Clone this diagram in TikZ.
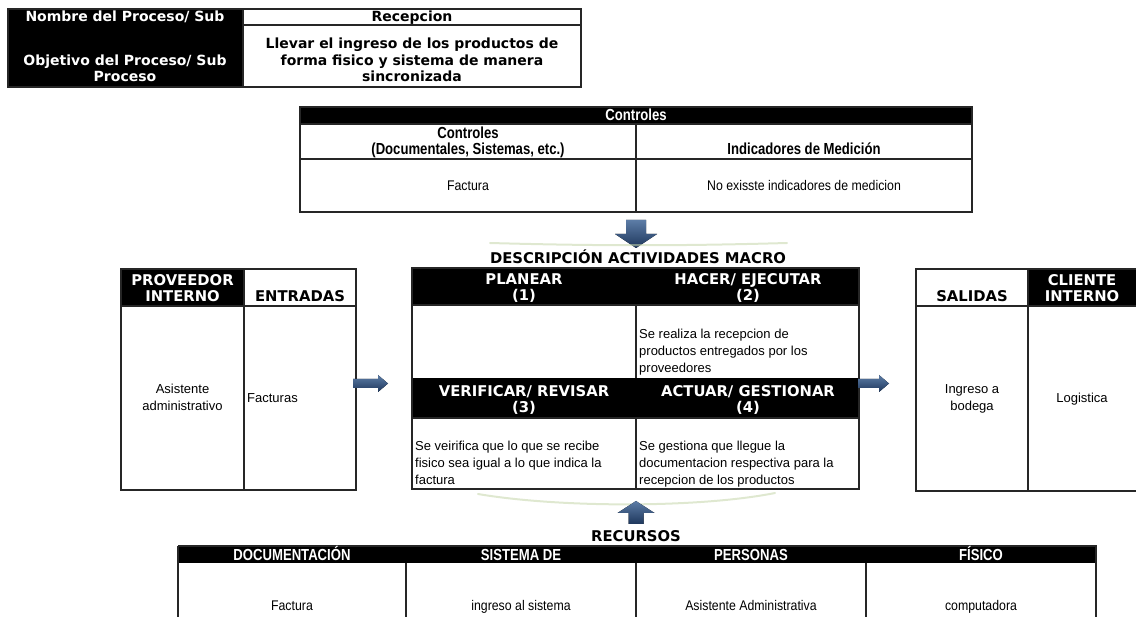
\documentclass[tikz,border=0pt]{standalone}
\usepackage{fontspec}
\setmainfont{Liberation Sans}
\newfontfamily\hdrfont{DejaVu Sans}
\newfontfamily\narrowfont[FakeStretch=0.88]{Liberation Sans}
\newfontfamily\narrowbold[FakeStretch=0.82]{Liberation Sans Bold}
\definecolor{arrowtop}{RGB}{92,124,166}
\definecolor{arrowbot}{RGB}{30,55,92}
\definecolor{glowgreen}{RGB}{196,214,170}
\begin{document}
% multi-line texts are placed by the baseline of their last line
\begin{tikzpicture}[x=1pt,y=-1pt,
  grid/.style={draw=black!85, line width=1.1pt},
  ink/.style={fill=black},
  txt/.style={inner sep=0pt, anchor=base},
  hdr/.style={txt, font=\hdrfont\bfseries\fontsize{14}{16.5}\selectfont, align=center},
  hdrw/.style={hdr, text=white},
  caps/.style={txt, font=\hdrfont\bfseries\fontsize{14.8}{16}\selectfont, align=center},
  capsw/.style={caps, text=white},
  body/.style={txt, font=\fontsize{13}{17}\selectfont, align=center},
  bodyl/.style={body, align=left, anchor=base west},
  nbody/.style={txt, font=\narrowfont\fontsize{14}{16}\selectfont, align=center},
  nhdr/.style={txt, font=\narrowbold\fontsize{16}{16.5}\selectfont, align=center},
  nhdrw/.style={nhdr, text=white},
  blockarrow/.style={top color=arrowtop, bottom color=arrowbot, draw=none},
  glow/.style={draw=glowgreen, line width=2pt, opacity=0.55, line cap=round}
]
\useasboundingbox (0,0) rectangle (1136,617);
\clip (0,0) rectangle (1136,617);

% ---------- process name / objective ----------
\fill[ink] (8,9) rectangle (243,87);
\draw[grid] (8,9) rectangle (581,87);
\draw[grid] (243,25) -- (581,25);
\draw[grid] (243,9) -- (243,87);
\node[hdrw] (nombre) at (125,22) {Nombre del Proceso/ Sub};
\node[hdrw] (objetivo) at (125,82) {Objetivo del Proceso/ Sub\\Proceso};
\node[hdr] (recepcion) at (412,22) {Recepcion};
\node[hdr] (llevar) at (412,82) {Llevar el ingreso de los productos de\\forma fisico y sistema de manera\\sincronizada};

% ---------- controls ----------
\fill[ink] (300,107) rectangle (972,124);
\draw[grid] (300,107) rectangle (972,212);
\draw[grid] (300,124) -- (972,124);
\draw[grid] (300,159) -- (972,159);
\draw[grid] (636,124) -- (636,212);
\node[nhdrw] (controles) at (636,121) {Controles};
\node[nhdr] (ctrlhead) at (468,155) {Controles\\(Documentales, Sistemas, etc.)};
\node[nhdr] (indhead) at (804,155) {Indicadores de Medición};
\node[nbody] (ctrlval) at (468,191) {Factura};
\node[nbody] (indval) at (804,191) {No exisste indicadores de medicion};

% ---------- arrow into the activities ----------
\coordinate (downtip) at (636,248);
\fill[blockarrow] (downtip) -- ++(-21,-14) -- ++(11,0) -- ++(0,-14) -- ++(20,0) -- ++(0,14) -- ++(11,0) -- cycle;
\draw[glow] (490,243) .. controls (600,246) and (680,246) .. (787,243);
\node[caps] (descripcion) at (638,264) {DESCRIPCIÓN ACTIVIDADES MACRO};

% ---------- suppliers / inputs ----------
\fill[ink] (121,269) rectangle (244,306);
\draw[grid] (121,269) rectangle (356,490);
\draw[grid] (121,306) -- (356,306);
\draw[grid] (244,269) -- (244,490);
\node[capsw] (proveedor) at (182.5,302) {PROVEEDOR\\INTERNO};
\node[caps] (entradas) at (300,302) {ENTRADAS};
\node[body] (asistente) at (182.5,411) {Asistente\\administrativo};
\node[bodyl] (facturas) at (247,403) {Facturas};

\coordinate (intail) at (353,383.5);
\fill[blockarrow] (intail) -- ++(0,-4.5) -- ++(25,0) -- ++(0,-4) -- ++(10,8.5) -- ++(-10,8.5) -- ++(0,-4) -- ++(-25,0) -- cycle;

% ---------- PDCA activities ----------
\fill[ink] (412,268) rectangle (859,305);
\fill[ink] (412,378) rectangle (859,418);
\draw[grid] (412,268) rectangle (859,489);
\draw[grid] (636,305) -- (636,378);
\draw[grid] (636,418) -- (636,489);
\draw[grid] (412,305) -- (859,305);
\draw[grid] (412,418) -- (859,418);
\node[capsw] (planear) at (524,301) {PLANEAR\\(1)};
\node[capsw] (hacer) at (748,301) {HACER/ EJECUTAR\\(2)};
\node[capsw] (verificar) at (524,412.5) {VERIFICAR/ REVISAR\\(3)};
\node[capsw] (actuar) at (748,412.5) {ACTUAR/ GESTIONAR\\(4)};
\node[bodyl] (hacertxt) at (639,373) {Se realiza la recepcion de\\productos entregados por los\\proveedores};
\node[bodyl] (verifytxt) at (415,485) {Se veirifica que lo que se recibe\\fisico sea igual a lo que indica la\\factura};
\node[bodyl] (actuartxt) at (639,485) {Se gestiona que llegue la\\documentacion respectiva para la\\recepcion de los productos};

\coordinate (outtail) at (858,383.5);
\fill[blockarrow] (outtail) -- ++(0,-4.5) -- ++(21,0) -- ++(0,-4) -- ++(10,8.5) -- ++(-10,8.5) -- ++(0,-4) -- ++(-21,0) -- cycle;

% ---------- outputs / clients ----------
\fill[ink] (1028,269) rectangle (1140,306);
\draw[grid] (916,269) rectangle (1140,491);
\draw[grid] (916,306) -- (1140,306);
\draw[grid] (1028,269) -- (1028,491);
\node[caps] (salidas) at (972,302) {SALIDAS};
\node[capsw] (cliente) at (1082,302) {CLIENTE\\INTERNO};
\node[body] (ingreso) at (972,411) {Ingreso a\\bodega};
\node[body] (logistica) at (1082,403) {Logistica};

% ---------- resources ----------
\draw[glow] (478,494) .. controls (560,508) and (700,508) .. (775,493);
\coordinate (uptip) at (636,501);
\fill[blockarrow] (uptip) -- ++(18.5,12) -- ++(-11,0) -- ++(0,11) -- ++(-15,0) -- ++(0,-11) -- ++(-11,0) -- cycle;
\node[caps] (recursos) at (636,541) {RECURSOS};

\fill[ink] (178,546) rectangle (1096,563);
\draw[grid] (178,546) -- (1096,546) -- (1096,625);
\draw[grid] (178,546) -- (178,625);
\draw[grid] (406,563) -- (406,625);
\draw[grid] (636,563) -- (636,625);
\draw[grid] (866,563) -- (866,625);
\node[nhdrw] (documentacion) at (292,560) {DOCUMENTACIÓN};
\node[nhdrw] (sistema) at (521,560) {SISTEMA DE};
\node[nhdrw] (personas) at (751,560) {PERSONAS};
\node[nhdrw] (fisico) at (981,560) {FÍSICO};
\node[nbody] (docval) at (292,610) {Factura};
\node[nbody] (sisval) at (521,610) {ingreso al sistema};
\node[nbody] (perval) at (751,610) {Asistente Administrativa};
\node[nbody] (fisval) at (981,610) {computadora};
\end{tikzpicture}
\end{document}
